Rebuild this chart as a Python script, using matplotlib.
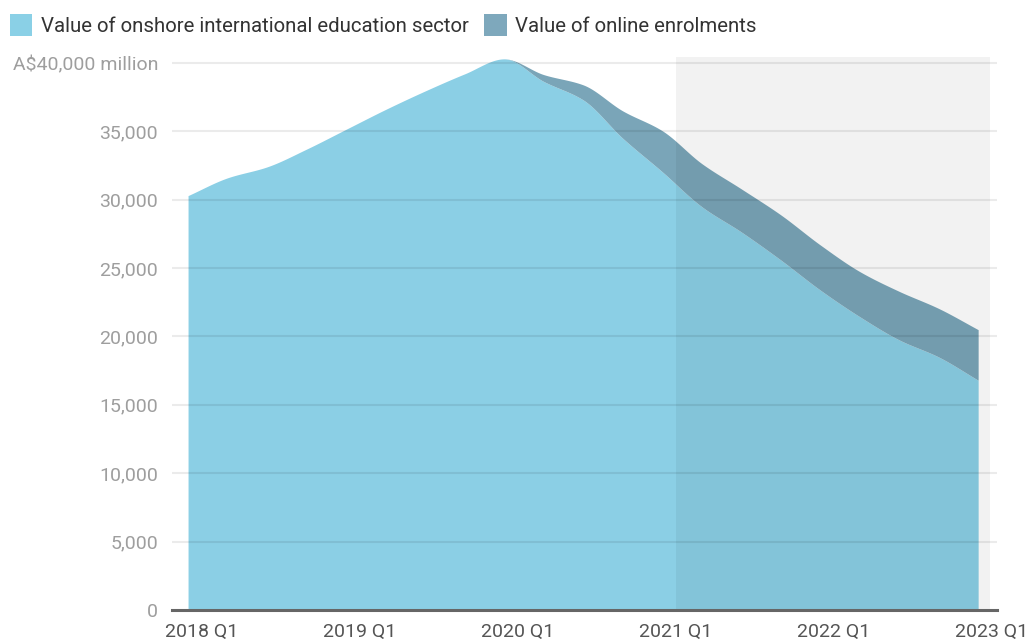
import numpy as np
import matplotlib
matplotlib.use("Agg")
import matplotlib.pyplot as plt
from matplotlib.patches import Rectangle

plt.rcParams['font.family'] = ['Roboto', 'DejaVu Sans']

# Quarterly values, A$ million, 2018 Q1 .. 2023 Q1
quarters = ["2018 Q1", "2018 Q2", "2018 Q3", "2018 Q4",
            "2019 Q1", "2019 Q2", "2019 Q3", "2019 Q4",
            "2020 Q1", "2020 Q2", "2020 Q3", "2020 Q4",
            "2021 Q1", "2021 Q2", "2021 Q3", "2021 Q4",
            "2022 Q1", "2022 Q2", "2022 Q3", "2022 Q4",
            "2023 Q1"]
onshore = [30300, 31600, 32400, 33700, 35150, 36600, 37950, 39200,
           40300, 38650, 37300, 34500, 32050, 29500, 27650, 25600,
           23400, 21450, 19750, 18500, 16800]
online = [0, 0, 0, 0, 0, 0, 0, 0,
          0, 500, 1100, 2000, 3000, 3150, 3150, 3300,
          3300, 3300, 3550, 3550, 3700]
tick_labels = ["2018 Q1", "2019 Q1", "2020 Q1", "2021 Q1", "2022 Q1", "2023 Q1"]
y_ticks = [0, 5000, 10000, 15000, 20000, 25000, 30000, 35000, 40000]
y_tick_labels = ["0", "5,000", "10,000", "15,000", "20,000", "25,000",
                 "30,000", "35,000", "A\\$40,000 million"]
shade_from = "2021 Q1"

LIGHT = "#8bcfe5"
DARK = "#7aa5b8"


def pchip(x, y, xs):
    """Monotone cubic (Fritsch-Carlson) curve through the points."""
    x = np.asarray(x, float)
    y = np.asarray(y, float)
    h = np.diff(x)
    d = np.diff(y) / h
    m = np.zeros_like(y)
    m[0], m[-1] = d[0], d[-1]
    for k in range(1, len(x) - 1):
        if d[k - 1] * d[k] > 0:
            w1 = 2 * h[k] + h[k - 1]
            w2 = h[k] + 2 * h[k - 1]
            m[k] = (w1 + w2) / (w1 / d[k - 1] + w2 / d[k])
    idx = np.clip(np.searchsorted(x, xs) - 1, 0, len(x) - 2)
    t = (xs - x[idx]) / h[idx]
    h00 = 2 * t**3 - 3 * t**2 + 1
    h10 = t**3 - 2 * t**2 + t
    h01 = -2 * t**3 + 3 * t**2
    h11 = t**3 - t**2
    return (h00 * y[idx] + h10 * h[idx] * m[idx]
            + h01 * y[idx + 1] + h11 * h[idx] * m[idx + 1])


x = np.arange(len(quarters))
total = np.array(onshore) + np.array(online)
xs = np.linspace(0, len(quarters) - 1, 800)
on_s = pchip(x, onshore, xs)
tot_s = np.maximum(pchip(x, total, xs), on_s)

fig = plt.figure(figsize=(10.29, 6.40), dpi=100)
ax = fig.add_axes([0.1672, 0.0469, 0.8018, 0.8633])
ax.set_xlim(-0.405, 20.48)
ax.set_ylim(0, 40400)

ax.fill_between(xs, 0, on_s, color=LIGHT, lw=0, zorder=1)
ax.fill_between(xs, on_s, tot_s, color=DARK, lw=0, zorder=1)

# shaded period from 2021 onwards
s0 = quarters.index(shade_from) + 0.35
ax.axvspan(s0, 20.3, color="black", alpha=0.05, lw=0, zorder=2)

# horizontal grid lines
for yv in y_ticks[1:]:
    ax.axhline(yv, color="black", alpha=0.08, lw=1.5, zorder=3)
ax.axhline(0, color="#666666", lw=2.2, zorder=4, clip_on=False)

for s in ax.spines.values():
    s.set_visible(False)
ax.set_yticks(y_ticks)
ax.set_yticklabels(y_tick_labels, fontsize=14, color="#9e9e9e")
ax.set_xticks([quarters.index(q) + 0.35 for q in tick_labels])
ax.set_xticklabels(tick_labels, fontsize=14, color="#555555")
ax.tick_params(axis="y", length=0, pad=10)
ax.tick_params(axis="x", length=0, pad=9)

# legend along the top
fig.patches.append(Rectangle((10 / 1029, 1 - 36 / 640), 22 / 1029, 22 / 640,
                             transform=fig.transFigure, color="#8ad0e6", lw=0))
fig.text(41 / 1029, 1 - 26 / 640, "Value of onshore international education sector",
         fontsize=14.7, color="#333333", va="center", ha="left")
fig.patches.append(Rectangle((484 / 1029, 1 - 36 / 640), 23 / 1029, 22 / 640,
                             transform=fig.transFigure, color="#7ea8bc", lw=0))
fig.text(515 / 1029, 1 - 26 / 640, "Value of online enrolments",
         fontsize=14.7, color="#333333", va="center", ha="left")

fig.savefig("out.png", dpi=100)
